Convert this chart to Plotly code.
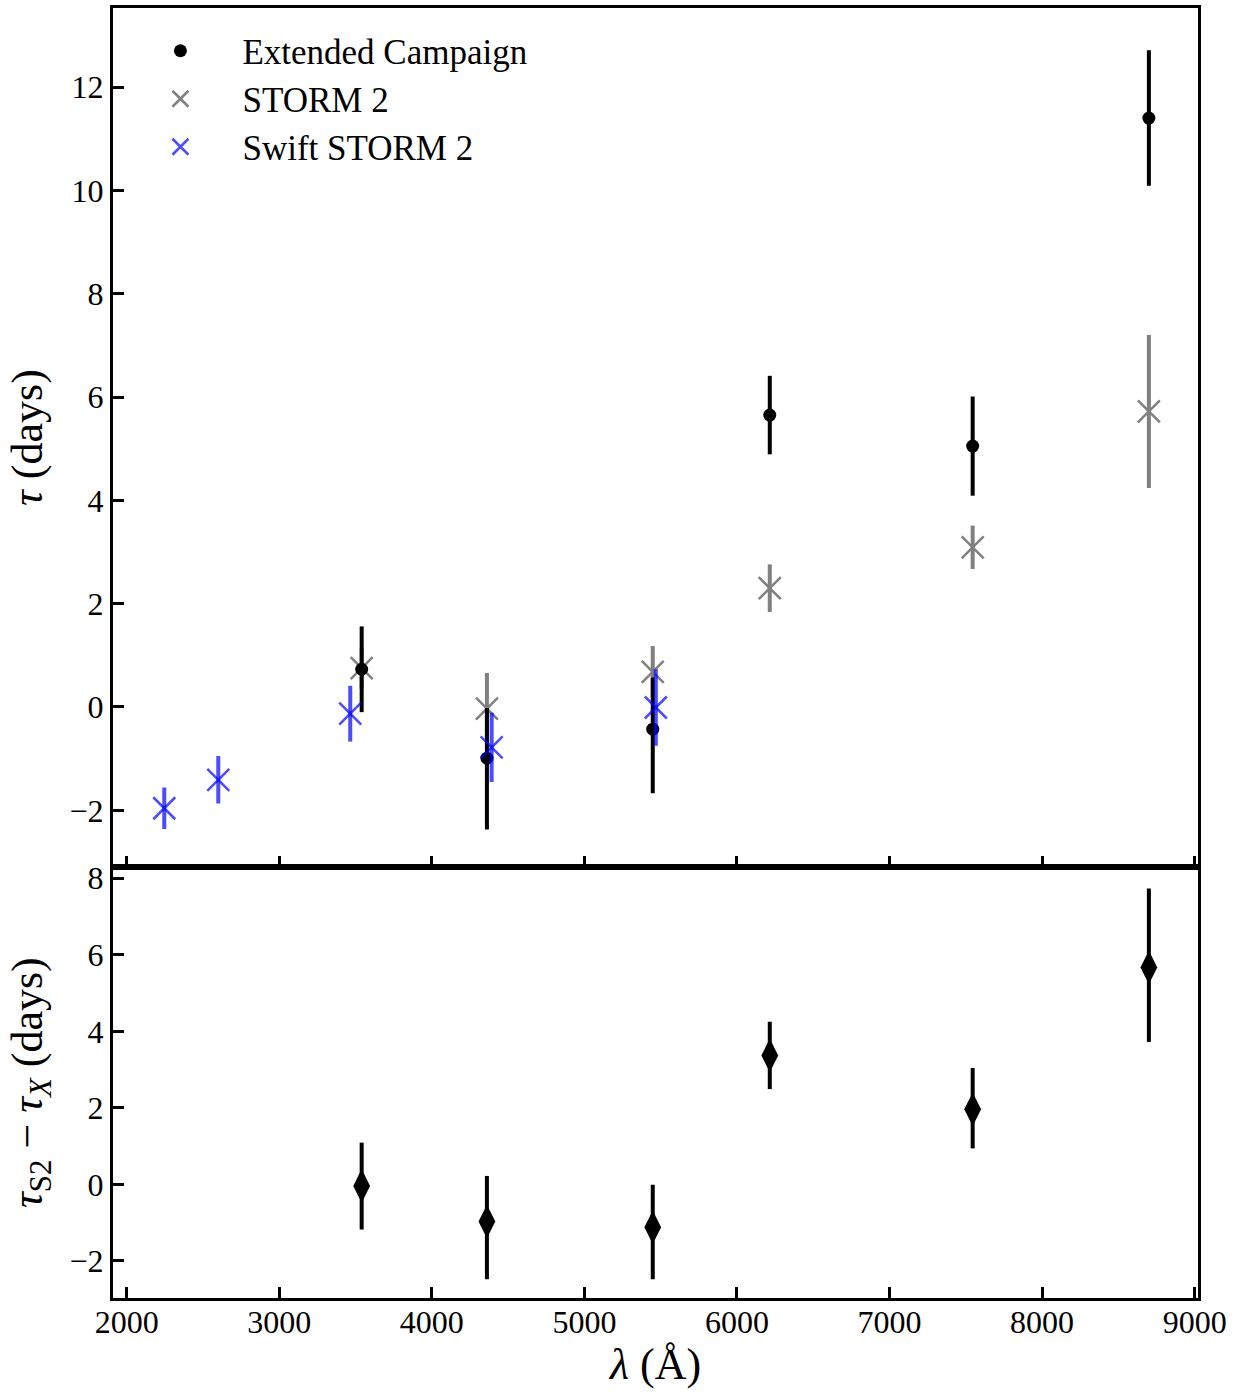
import plotly.graph_objects as go
from plotly.subplots import make_subplots

# ---------------- data ----------------
ext_wl = [3540, 4361, 5448, 6215, 7545, 8700]
ext_tau = [0.73, -0.99, -0.43, 5.65, 5.05, 11.40]
ext_err_plus = [0.83, 0.97, 1.00, 0.76, 0.96, 1.31]
ext_err_minus = [0.83, 1.38, 1.24, 0.76, 0.96, 1.31]

s2_wl = [3540, 4361, 5448, 6215, 7545, 8700]
s2_tau = [0.75, -0.03, 0.68, 2.30, 3.09, 5.72]
s2_err = [0.40, 0.69, 0.50, 0.46, 0.42, 1.48]

swift_wl = [2246, 2600, 3465, 4392, 5468]
swift_tau = [-1.96, -1.41, -0.13, -0.78, -0.01]
swift_err = [0.40, 0.46, 0.54, 0.67, 0.74]

diff_wl = [3540, 4361, 5448, 6215, 7545, 8700]
diff_tau = [-0.04, -0.97, -1.12, 3.37, 1.96, 5.67]
diff_err_plus = [1.13, 1.19, 1.11, 0.88, 1.08, 2.06]
diff_err_minus = [1.14, 1.51, 1.36, 0.88, 1.02, 1.95]

x_ticks = [2000, 3000, 4000, 5000, 6000, 7000, 8000, 9000]
top_y_ticks = [-2, 0, 2, 4, 6, 8, 10, 12]
bot_y_ticks = [-2, 0, 2, 4, 6, 8]

FONT = "Liberation Serif"
GRAY = "#808080"
BLUE = "rgba(0,0,255,0.7)"

fig = make_subplots(rows=2, cols=1, shared_xaxes=True, vertical_spacing=0,
                    row_heights=[0.666, 0.334])

# STORM 2 (gray, drawn first)
fig.add_trace(go.Scatter(
    x=s2_wl, y=s2_tau, mode="markers", name="STORM 2",
    marker=dict(symbol="x-thin", size=22, color=GRAY, line=dict(color=GRAY, width=2.5)),
    error_y=dict(type="data", array=s2_err, color=GRAY, thickness=4, width=0),
    legend="legend2"), row=1, col=1)

# Extended Campaign (black dots)
fig.add_trace(go.Scatter(
    x=ext_wl, y=ext_tau, mode="markers", name="Extended Campaign",
    marker=dict(symbol="circle", size=13, color="black"),
    error_y=dict(type="data", symmetric=False, array=ext_err_plus, arrayminus=ext_err_minus,
                 color="black", thickness=4, width=0),
    legend="legend"), row=1, col=1)

# Swift STORM 2 (blue)
fig.add_trace(go.Scatter(
    x=swift_wl, y=swift_tau, mode="markers", name="Swift STORM 2",
    marker=dict(symbol="x-thin", size=22, color=BLUE, line=dict(color=BLUE, width=2.5)),
    error_y=dict(type="data", array=swift_err, color=BLUE, thickness=4, width=0),
    legend="legend3"), row=1, col=1)

# Difference panel
fig.add_trace(go.Scatter(
    x=diff_wl, y=diff_tau, mode="markers", showlegend=False,
    marker=dict(symbol="diamond-tall", size=24, color="black"),
    error_y=dict(type="data", symmetric=False, array=diff_err_plus, arrayminus=diff_err_minus,
                 color="black", thickness=4, width=0)), row=2, col=1)

axis_common = dict(showline=True, linecolor="black", linewidth=3, mirror=True,
                   ticks="inside", ticklen=11, tickwidth=2.5, tickcolor="black",
                   showgrid=False, zeroline=False, automargin=False,
                   tickfont=dict(family=FONT, size=32, color="black"))

TITLE_FONT = dict(family=FONT, size=44, color="black")

fig.update_xaxes(**axis_common, range=[1910, 9022], tickvals=x_ticks)
fig.update_xaxes(showticklabels=False, row=1, col=1)
fig.update_xaxes(title=dict(text="<i>λ</i> (Å)", font=TITLE_FONT, standoff=4),
                 ticklabelstandoff=-6, row=2, col=1)

fig.update_yaxes(**axis_common)
fig.update_yaxes(range=[-3.1, 13.53], tickvals=top_y_ticks, row=1, col=1,
                 title=dict(text="<i>τ</i> (days)", font=TITLE_FONT, standoff=14))
fig.update_yaxes(range=[-2.97, 8.29], tickvals=bot_y_ticks, row=2, col=1,
                 title=dict(text="<i>τ</i><sub>S2</sub> − <i>τ</i><sub><i>X</i></sub> (days)",
                            font=TITLE_FONT, standoff=14))

leg_common = dict(xanchor="left", yanchor="middle", bgcolor="rgba(0,0,0,0)",
                  font=dict(family=FONT, size=35, color="black"), itemwidth=114)
fig.update_layout(
    width=1241, height=1397,
    margin=dict(l=113, r=43, t=8, b=99, autoexpand=False),
    plot_bgcolor="white", paper_bgcolor="white",
    legend=dict(x=0.005, y=1 - (51 - 8) / 1290, **leg_common),
    legend2=dict(x=0.005, y=1 - (99 - 8) / 1290, **leg_common),
    legend3=dict(x=0.005, y=1 - (147 - 8) / 1290, **leg_common),
)

fig.write_html("out.html")
